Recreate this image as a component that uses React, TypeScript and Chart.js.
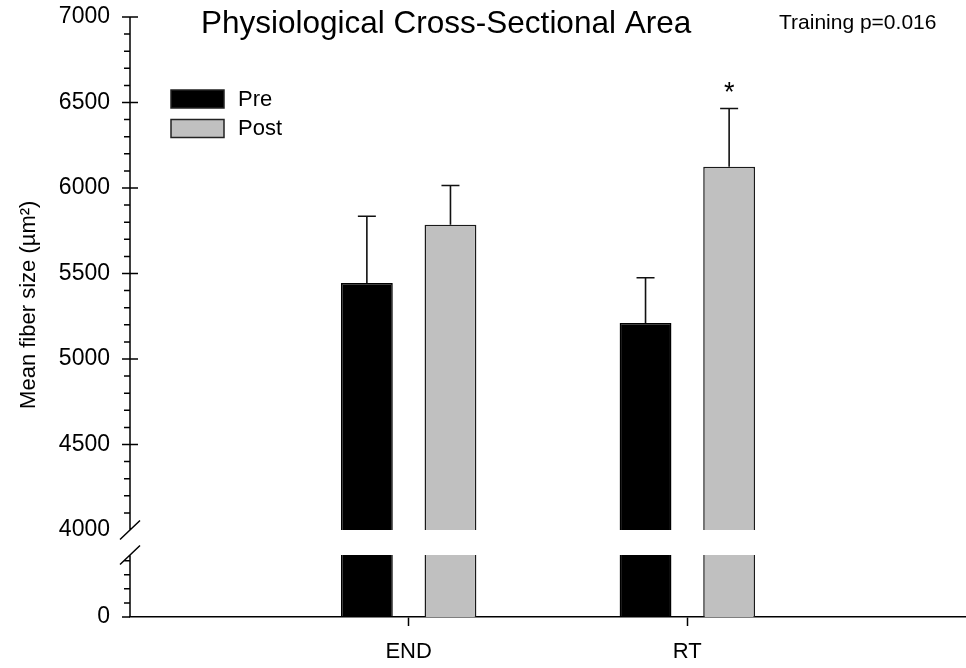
import React, { useEffect, useRef } from 'react';
import { Chart, registerables, LinearScale } from 'chart.js';

Chart.register(...registerables);

// ---- data ----
const CATEGORIES = ['END', 'RT'];
const SERIES = ['Pre', 'Post'];
const PRE_VALUES = [5445, 5210];
const POST_VALUES = [5785, 6125];
const PRE_ERRORS = [390, 265];
const POST_ERRORS = [230, 340];
const POST_MARKS = ['', '*'];
const Y_TICK_LABELS = [0, 4000, 4500, 5000, 5500, 6000, 6500, 7000];
const TITLE = 'Physiological Cross-Sectional Area';
const NOTE = 'Training p=0.016';
const Y_TITLE = 'Mean fiber size (µm²)';

// ---- axis break config ----
const Y_MIN = 0;
const Y_MAX = 7000;
const BREAK_LOW = 440;
const BREAK_HIGH = 4000;
const MINOR_STEP = 100;
const LOW_FRAC = 62 / 600;
const GAP_FRAC = 25 / 600;

const FONT = "'Liberation Sans', Arial, Helvetica, sans-serif";
const PRE_COLOR = '#000000';
const POST_COLOR = '#c0c0c0';

class BrokenScale extends LinearScale {
  static id = 'broken';
  static defaults = LinearScale.defaults;
  segs() {
    const h = this.bottom - this.top;
    const low = h * LOW_FRAC;
    const gap = h * GAP_FRAC;
    return { low, gap, high: h - low - gap };
  }
  getPixelForValue(value: any) {
    if (value === null || value === undefined || isNaN(value)) return NaN;
    const { low, gap, high } = this.segs();
    let off: number;
    if (value <= BREAK_LOW) off = ((value - Y_MIN) / (BREAK_LOW - Y_MIN)) * low;
    else if (value < BREAK_HIGH) off = low + ((value - BREAK_LOW) / (BREAK_HIGH - BREAK_LOW)) * gap;
    else off = low + gap + ((value - BREAK_HIGH) / (Y_MAX - BREAK_HIGH)) * high;
    return this.bottom - off;
  }
  getValueForPixel(pixel: number) {
    const { low, gap, high } = this.segs();
    const off = this.bottom - pixel;
    if (off <= low) return Y_MIN + (off / low) * (BREAK_LOW - Y_MIN);
    if (off < low + gap) return BREAK_LOW + ((off - low) / gap) * (BREAK_HIGH - BREAK_LOW);
    return BREAK_HIGH + ((off - low - gap) / high) * (Y_MAX - BREAK_HIGH);
  }
}
Chart.register(BrokenScale as any);

const decorPlugin = {
  id: 'decor',
  afterDatasetsDraw(chart: any) {
    const ctx = chart.ctx;
    const { left, right, top, bottom } = chart.chartArea;
    const y = chart.scales.y;
    const yHigh = y.getPixelForValue(BREAK_HIGH);
    const yLow = y.getPixelForValue(BREAK_LOW);
    ctx.save();
    // white break band across bars
    ctx.fillStyle = '#ffffff';
    ctx.fillRect(left + 2, yHigh, right - left - 2, yLow - yHigh);

    // error bars + marks
    chart.data.datasets.forEach((ds: any, di: number) => {
      const meta = chart.getDatasetMeta(di);
      meta.data.forEach((el: any, j: number) => {
        const v = ds.data[j];
        const e = ds.errors[j];
        if (v == null || e == null) return;
        const yt = y.getPixelForValue(v + e);
        ctx.strokeStyle = '#111111';
        ctx.lineWidth = 1.6;
        ctx.beginPath();
        ctx.moveTo(el.x, el.y);
        ctx.lineTo(el.x, yt);
        ctx.moveTo(el.x - 9, yt);
        ctx.lineTo(el.x + 9, yt);
        ctx.stroke();
        const mark = ds.marks ? ds.marks[j] : '';
        if (mark) {
          ctx.fillStyle = '#000';
          ctx.font = `27px ${FONT}`;
          ctx.textAlign = 'center';
          ctx.textBaseline = 'alphabetic';
          ctx.fillText(mark, el.x, yt - 7);
        }
      });
    });

    // y axis line with break
    const ax = left;
    ctx.strokeStyle = '#000';
    ctx.lineWidth = 1.5;
    ctx.beginPath();
    ctx.moveTo(ax, top);
    ctx.lineTo(ax, yHigh);
    ctx.moveTo(ax, yLow);
    ctx.lineTo(ax, bottom);
    [yHigh, yLow].forEach((yy) => {
      ctx.moveTo(ax - 10, yy + 9.5);
      ctx.lineTo(ax + 10, yy - 9.5);
    });
    // major ticks
    Y_TICK_LABELS.forEach((v) => {
      if (v === BREAK_HIGH) return;
      const p = y.getPixelForValue(v);
      ctx.moveTo(ax - 8, p);
      ctx.lineTo(v === Y_MIN ? ax : ax + 8, p);
    });
    // minor ticks
    for (let v = Y_MIN + MINOR_STEP; v < Y_MAX; v += MINOR_STEP) {
      if (v > BREAK_LOW && v <= BREAK_HIGH) continue;
      if (Y_TICK_LABELS.includes(v)) continue;
      const p = y.getPixelForValue(v);
      ctx.moveTo(ax - 6, p);
      ctx.lineTo(ax, p);
    }
    ctx.stroke();
    ctx.restore();
  },
  afterDraw(chart: any) {
    const ctx = chart.ctx;
    const { left, top } = chart.chartArea;
    ctx.save();
    ctx.fillStyle = '#000';
    ctx.textAlign = 'left';
    ctx.textBaseline = 'alphabetic';
    ctx.font = `31.5px ${FONT}`;
    ctx.fillText(TITLE, 201, 33);
    ctx.font = `21px ${FONT}`;
    ctx.fillText(NOTE, 779, 29);

    // legend
    chart.data.datasets.forEach((ds: any, i: number) => {
      const bx = left + 41;
      const by = top + 73 + i * 29.5;
      ctx.fillStyle = ds.backgroundColor;
      ctx.fillRect(bx, by, 53, 18);
      ctx.strokeStyle = '#222';
      ctx.lineWidth = 1.5;
      ctx.strokeRect(bx, by, 53, 18);
      ctx.fillStyle = '#000';
      ctx.font = `22px ${FONT}`;
      ctx.textBaseline = 'middle';
      ctx.fillText(ds.label, bx + 67, by + 9.5);
    });
    ctx.restore();
  },
};

export default function App() {
  const ref = useRef<HTMLCanvasElement | null>(null);
  useEffect(() => {
    if (!ref.current) return;
    const labels = ['', ...CATEGORIES, ''];
    const chart = new Chart(ref.current, {
      type: 'bar',
      data: {
        labels,
        datasets: [
          {
            label: SERIES[0],
            data: [null, ...PRE_VALUES, null],
            errors: [null, ...PRE_ERRORS, null],
            backgroundColor: PRE_COLOR,
            borderColor: '#000',
            borderWidth: 1.5,
            categoryPercentage: 0.6,
            barPercentage: 0.62,
          } as any,
          {
            label: SERIES[1],
            data: [null, ...POST_VALUES, null],
            errors: [null, ...POST_ERRORS, null],
            marks: [null, ...POST_MARKS, null],
            backgroundColor: POST_COLOR,
            borderColor: '#1a1a1a',
            borderWidth: 1.5,
            categoryPercentage: 0.6,
            barPercentage: 0.62,
          } as any,
        ],
      },
      options: {
        animation: false,
        responsive: false,
        devicePixelRatio: 1,
        layout: { autoPadding: false, padding: { top: 17, left: 0, right: 0, bottom: 0 } },
        plugins: {
          legend: { display: false },
          tooltip: { enabled: false },
          title: { display: false },
        },
        scales: {
          x: {
            type: 'category',
            offset: false,
            grid: {
              display: true,
              drawOnChartArea: false,
              offset: false,
              tickLength: 9,
              tickWidth: 1.5,
              tickColor: (c: any) =>
                c.index === 0 || c.index === labels.length - 1 ? 'rgba(0,0,0,0)' : '#000',
            },
            border: { display: true, color: '#000', width: 1.5 },
            ticks: {
              color: '#000',
              font: { family: FONT, size: 22 },
              padding: 13,
              autoSkip: false,
              maxRotation: 0,
            },
            afterFit: (s: any) => {
              s.height = 51;
              s.paddingLeft = 0;
              s.paddingRight = 0;
            },
          },
          y: {
            type: 'broken' as any,
            min: Y_MIN,
            max: Y_MAX,
            afterBuildTicks: (s: any) => {
              s.ticks = Y_TICK_LABELS.map((v) => ({ value: v }));
            },
            ticks: {
              callback: (v: any) => String(v),
              color: '#000',
              font: { family: FONT, size: 23 },
              padding: 12,
              autoSkip: false,
            },
            grid: { display: false, drawTicks: true, tickLength: 8 },
            border: { display: false },
            title: {
              display: true,
              text: '    ' + Y_TITLE,
              color: '#000',
              font: { family: FONT, size: 22 },
              padding: { top: 16, bottom: 0 },
            },
            afterFit: (s: any) => {
              s.width = 130;
              s.paddingTop = 0;
              s.paddingBottom = 0;
            },
          } as any,
        },
      },
      plugins: [decorPlugin],
    });
    return () => chart.destroy();
  }, []);
  return (
    <div style={{ position: 'fixed', left: 0, top: 0, width: 966, height: 668, background: '#fff' }}>
      <canvas ref={ref} width={966} height={668} style={{ display: 'block' }} />
    </div>
  );
}
